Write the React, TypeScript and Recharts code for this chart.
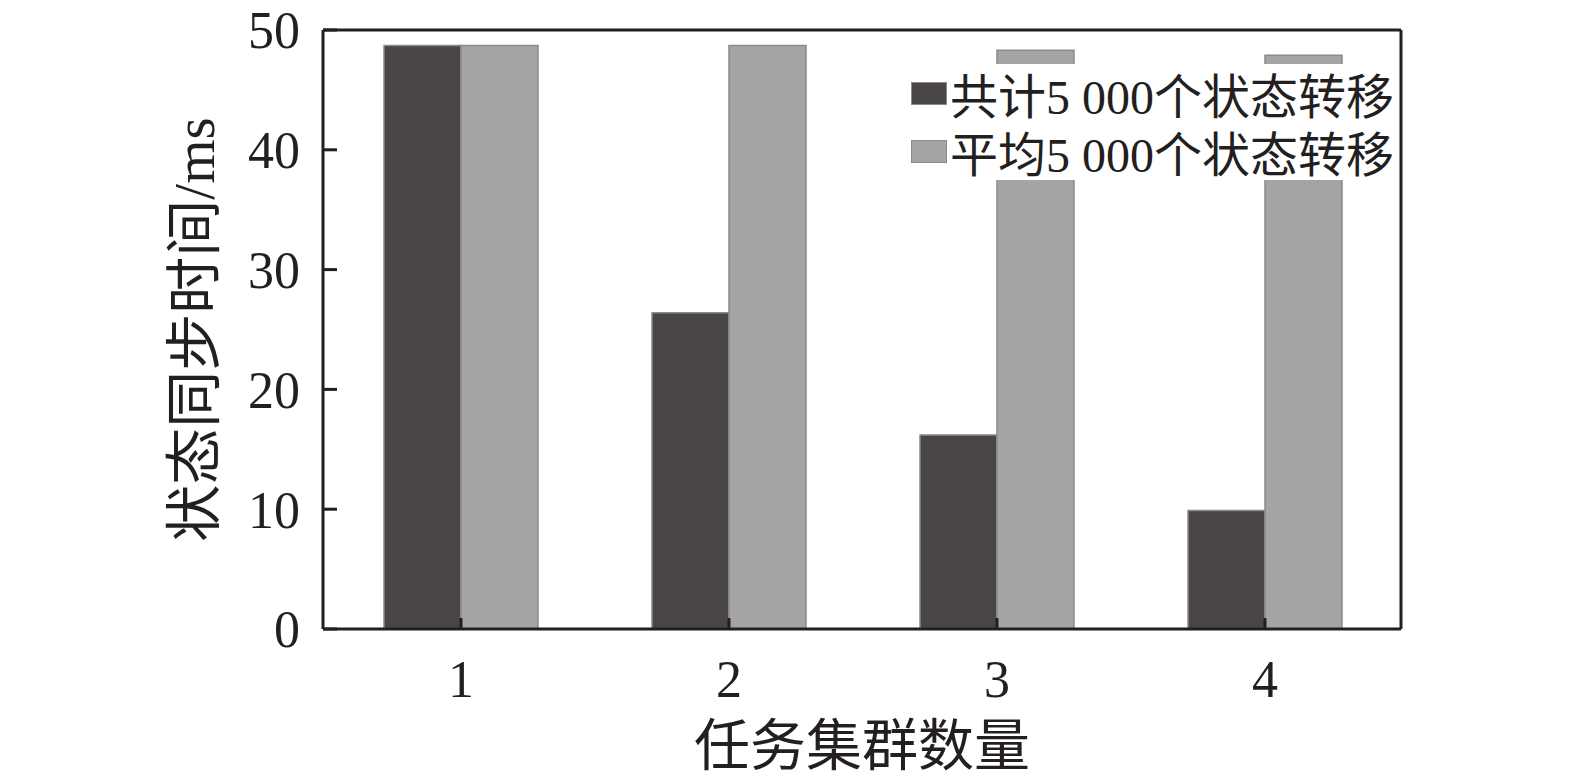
import React from 'react';
import { BarChart, Bar, XAxis, YAxis, Legend } from 'recharts';

const categories = ['1', '2', '3', '4'];
const totalSeries = [48.7, 26.4, 16.2, 9.9];
const averageSeries = [48.7, 48.7, 48.3, 47.9];
const yTicks = [0, 10, 20, 30, 40, 50];

const SERIES_NAMES = ['共计5 000个状态转移', '平均5 000个状态转移'];
const COLORS = ['#4a4647', '#a4a4a4'];
const AXIS = '#231f20';
const FONT = "'Liberation Serif', 'Noto Sans CJK SC', serif";

const data = categories.map((c, i) => ({ name: c, total: totalSeries[i], average: averageSeries[i] }));

const LegendBox = ({ payload }: any) => (
    <div style={{ background: '#fff', padding: '0 2px 0 6px', fontFamily: FONT }}>
        {(payload || []).map((entry: any, i: number) => (
            <div key={`lg-${i}`} style={{ display: 'flex', alignItems: 'center', height: 58 }}>
                <span style={{ width: 34, height: 21, background: entry.color, border: '1px solid #8a8a8a', marginRight: 3 }} />
                <span style={{ fontSize: 48, color: '#231f20', whiteSpace: 'nowrap' }}>{entry.value}</span>
            </div>
        ))}
    </div>
);

const App: React.FC = () => {
    return (
        <div style={{ position: 'absolute', left: 0, top: 0, width: 1575, height: 782, background: '#fff' }}>
            <BarChart
                width={1575}
                height={782}
                data={data}
                margin={{ top: 29, right: 173, left: 0, bottom: 0 }}
                barGap={0}
            >
                <XAxis
                    dataKey="name"
                    height={153}
                    padding={{ left: 4, right: 2 }}
                    stroke={AXIS}
                    strokeWidth={3}
                    tickSize={-11}
                    tickMargin={42}
                    tick={{ fill: AXIS, fontSize: 52, fontFamily: FONT }}
                    label={{ value: '任务集群数量', position: 'center', dy: 40, fill: AXIS, fontSize: 56, fontFamily: FONT }}
                />
                <XAxis xAxisId="top" dataKey="name" orientation="top" height={1} tick={false} tickLine={false} stroke={AXIS} strokeWidth={3} />
                <YAxis
                    width={323}
                    domain={[0, 50]}
                    ticks={yTicks}
                    stroke={AXIS}
                    strokeWidth={3}
                    tickSize={-14}
                    tickMargin={37}
                    tick={{ fill: AXIS, fontSize: 52, fontFamily: FONT }}
                    label={{ value: '状态同步时间/ms', angle: -90, position: 'center', dx: 32, fill: AXIS, fontSize: 57, fontFamily: FONT }}
                />
                <YAxis yAxisId="right" orientation="right" width={1} domain={[0, 50]} tick={false} tickLine={false} stroke={AXIS} strokeWidth={3} />
                <Legend
                    layout="horizontal"
                    verticalAlign="middle"
                    align="center"
                    content={<LegendBox />}
                    wrapperStyle={{ position: 'absolute', left: 905, top: 64, width: 'auto' }}
                />
                <Bar dataKey="total" name={SERIES_NAMES[0]} fill={COLORS[0]} stroke="#8a8a8a" strokeWidth={1.5} barSize={77} isAnimationActive={false} />
                <Bar dataKey="average" name={SERIES_NAMES[1]} fill={COLORS[1]} stroke="#8a8a8a" strokeWidth={1.5} barSize={77} isAnimationActive={false} />
            </BarChart>
        </div>
    );
};

export default App;
